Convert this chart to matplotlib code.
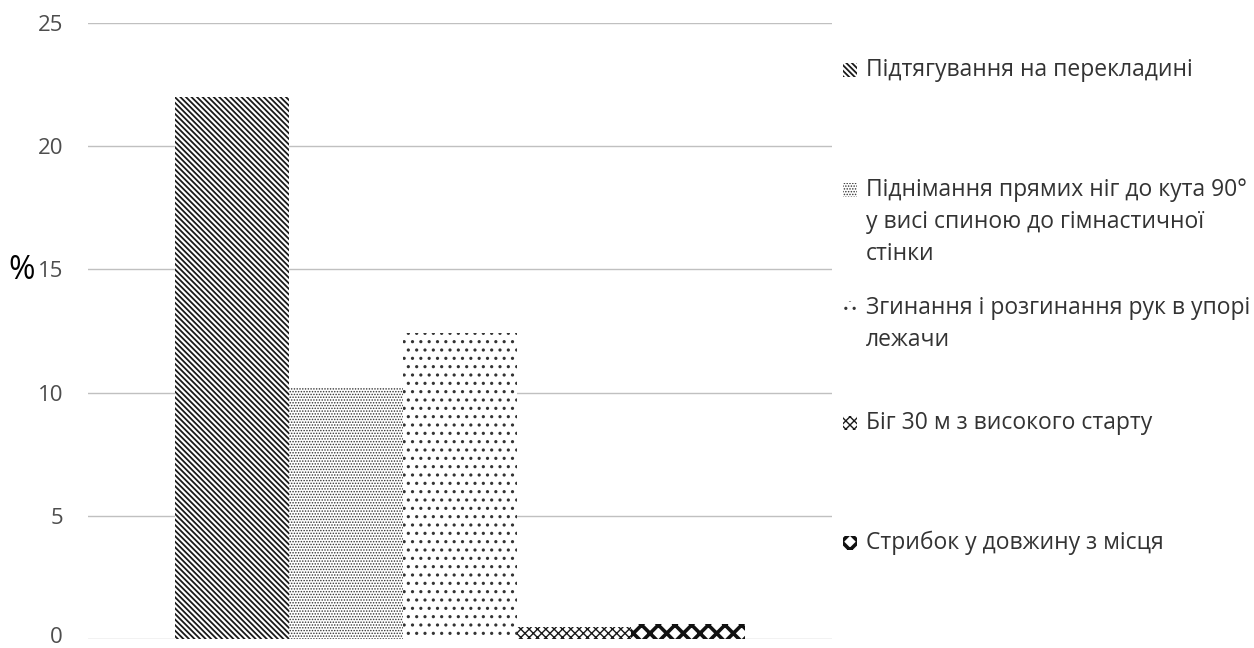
import matplotlib
matplotlib.use("Agg")
import matplotlib.pyplot as plt
import matplotlib.transforms as mtransforms
from matplotlib.patches import Rectangle

categories = [
    "Підтягування на перекладині",
    "Піднімання прямих ніг до кута 90°\nу висі спиною до гімнастичної\nстінки",
    "Згинання і розгинання рук в упорі\nлежачи",
    "Біг 30 м з високого старту",
    "Стрибок у довжину з місця",
]
values = [22.0, 10.2, 12.4, 0.5, 0.6]
yticks = [0, 5, 10, 15, 20, 25]
ylabel = "%"

hatches = ["\\\\\\\\\\\\", "......", "..", "xxxx", "xx"]
hatch_colors = ["#1a1a1a", "#333333", "#333333", "#1a1a1a", "#111111"]
hatch_lws = [1.3, 0.7, 1.1, 1.0, 2.6]

W, H = 1254, 648
fig = plt.figure(figsize=(W / 100, H / 100), dpi=100)
ax = fig.add_axes([88 / W, (H - 639) / H, (832 - 88) / W, (639 - 23) / H])

FONT = ["Open Sans", "DejaVu Sans"]

xs = list(range(len(values)))
for x, v, h, c, lw in zip(xs, values, hatches, hatch_colors, hatch_lws):
    with plt.rc_context({"hatch.linewidth": lw}):
        ax.bar(x, v, width=1.0, color="white", edgecolor=c, hatch=h,
               linewidth=0, zorder=3)

ax.set_ylim(0, 25)
ax.set_xlim(-0.5 - 0.763, len(values) - 0.5 + 0.76)
ax.set_yticks(yticks)
ax.set_yticklabels([str(t) for t in yticks], family=FONT, fontsize=16,
                   color="#4d4d4d")
ax.tick_params(axis="y", length=0, pad=18)
ax.set_xticks([])
for s in ax.spines.values():
    s.set_visible(False)
ax.grid(axis="y", color="#c0c0c0", linewidth=1.0, zorder=0)
ax.set_axisbelow(True)

# nudge the bottom tick label up slightly so it stays inside the figure
lab0 = ax.get_yticklabels()[0]
lab0.set_transform(lab0.get_transform() +
                   mtransforms.ScaledTranslation(0, 4 / 100, fig.dpi_scale_trans))

fig.text(8 / W, 1 - 270 / H, ylabel, family=FONT, fontsize=23,
         color="black", ha="left", va="center")

# legend
first_line_y = [70, 190, 308, 423, 543]
line_gap = 32
for lab, y0, h, c, lw in zip(categories, first_line_y, hatches, hatch_colors, hatch_lws):
    with plt.rc_context({"hatch.linewidth": lw}):
        r = Rectangle((843 / W, 1 - (y0 + 7) / H), 14 / W, 14 / H,
                      transform=fig.transFigure, facecolor="white",
                      edgecolor=c, hatch=h, linewidth=0)
    fig.add_artist(r)
    for i, line in enumerate(lab.split("\n")):
        fig.text(866 / W, 1 - (y0 + i * line_gap) / H, line, family=FONT,
                 fontsize=16.5, color="#333333", ha="left", va="center")

fig.savefig("out.png", dpi=100, facecolor="white")
